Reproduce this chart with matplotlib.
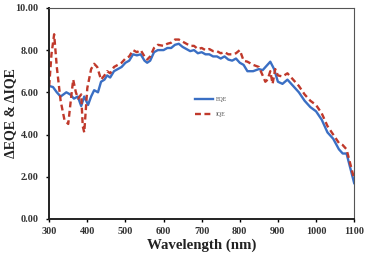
import matplotlib
matplotlib.use("Agg")
import matplotlib.pyplot as plt

wl_eqe = [300, 310, 320, 330, 345, 355, 365, 375, 384, 392, 402, 410, 418, 428, 436, 445, 452, 460, 470, 480,
          490, 500, 510, 520, 530, 540, 550, 557, 565, 575, 585, 600, 610, 620, 630, 640, 650, 660, 670, 680,
          690, 700, 710, 720, 730, 740, 750, 760, 770, 780, 790, 800, 810, 820, 835, 850, 860, 870, 880, 890,
          900, 912, 925, 940, 955, 970, 985, 1000, 1015, 1030, 1045, 1060, 1070, 1080, 1090, 1100]
eqe = [6.30, 6.25, 6.00, 5.80, 6.00, 5.90, 5.70, 5.80, 5.35, 5.80, 5.40, 5.80, 6.10, 6.00, 6.50, 6.60, 6.80, 6.70, 7.00, 7.10,
       7.20, 7.40, 7.50, 7.80, 7.75, 7.80, 7.50, 7.40, 7.50, 7.90, 8.00, 8.00, 8.10, 8.10, 8.25, 8.30, 8.15, 8.05, 7.95, 8.00,
       7.85, 7.90, 7.80, 7.80, 7.70, 7.70, 7.60, 7.70, 7.55, 7.50, 7.60, 7.40, 7.30, 7.00, 7.00, 7.10, 7.05, 7.25, 7.45, 7.10,
       6.50, 6.40, 6.60, 6.30, 6.00, 5.60, 5.30, 5.10, 4.70, 4.10, 3.80, 3.30, 3.10, 3.10, 2.40, 1.70]

wl_iqe = [300, 306, 313, 320, 330, 340, 350, 356, 363, 370, 376, 384, 388, 392, 400, 410, 418, 426, 436, 445,
          452, 460, 470, 480, 490, 500, 510, 520, 530, 540, 550, 557, 565, 575, 585, 600, 610, 620, 630, 640,
          650, 660, 670, 680, 690, 700, 710, 720, 730, 740, 750, 760, 770, 780, 790, 800, 810, 820, 835, 850,
          860, 867, 873, 880, 886, 893, 900, 912, 925, 940, 955, 970, 985, 1000, 1015, 1030, 1045, 1060, 1070,
          1080, 1090, 1100]
iqe = [6.30, 7.80, 8.75, 7.20, 5.60, 4.70, 4.50, 5.50, 6.60, 6.00, 5.70, 5.90, 4.40, 4.10, 6.20, 7.10, 7.35, 7.20, 6.60, 6.80,
       7.00, 6.90, 7.20, 7.30, 7.40, 7.60, 7.70, 8.00, 7.90, 8.00, 7.70, 7.55, 7.70, 8.10, 8.25, 8.20, 8.30, 8.35, 8.50, 8.50,
       8.40, 8.30, 8.20, 8.20, 8.05, 8.10, 8.00, 8.05, 7.95, 7.95, 7.85, 7.90, 7.80, 7.80, 7.85, 8.00, 7.50, 7.45, 7.30, 7.20,
       6.80, 6.50, 6.60, 7.00, 6.40, 7.10, 6.80, 6.75, 6.90, 6.60, 6.30, 5.90, 5.60, 5.40, 5.00, 4.40, 4.00, 3.60, 3.50,
       3.30, 2.60, 1.90]

x_ticks = [300, 400, 500, 600, 700, 800, 900, 1000, 1100]
y_ticks = [0, 2, 4, 6, 8, 10]

plt.rcParams['font.family'] = ['Liberation Serif', 'DejaVu Serif']

fig = plt.figure(figsize=(3.67, 2.54), dpi=100)
ax = fig.add_axes([0.134, 0.138, 0.831, 0.831])

ax.plot(wl_eqe, eqe, color='#3a6fc4', lw=1.7, label='EQE')
ax.plot(wl_iqe, iqe, color='#c0392b', lw=1.7, ls=(0, (2.5, 1.5)), label='IQE')

ax.set_xlim(300, 1100)
ax.set_ylim(0, 10)
ax.set_xticks(x_ticks)
ax.set_yticks(y_ticks)
ax.set_yticklabels([f"{v:.2f}" for v in y_ticks])
ax.tick_params(axis='both', labelsize=7.3, length=2.5, width=1.0, direction='out',
               labelcolor='#333333')
ax.tick_params(axis='x', pad=3)
ax.tick_params(axis='y', pad=5)
for lab in ax.get_xticklabels() + ax.get_yticklabels():
    lab.set_fontweight('bold')

ax.set_xlabel('Wavelength (nm)', fontsize=10.7, fontweight='bold', labelpad=2, color='#222222')
ax.set_ylabel('ΔEQE & ΔIQE', fontsize=10, fontweight='bold', color='#222222')
ax.yaxis.set_label_coords(-0.105, 0.5)

for s in ['left', 'bottom']:
    ax.spines[s].set_linewidth(1.4)
    ax.spines[s].set_color('#222222')
for s in ['top', 'right']:
    ax.spines[s].set_linewidth(0.8)
    ax.spines[s].set_color('#555555')

leg = ax.legend(loc='center', bbox_to_anchor=(0.53, 0.53), fontsize=4.2, frameon=False,
                handlelength=3.2, handletextpad=0.4, labelspacing=1.6)
for t in leg.get_texts():
    t.set_color('#555555')

fig.savefig('out.png', dpi=100)
